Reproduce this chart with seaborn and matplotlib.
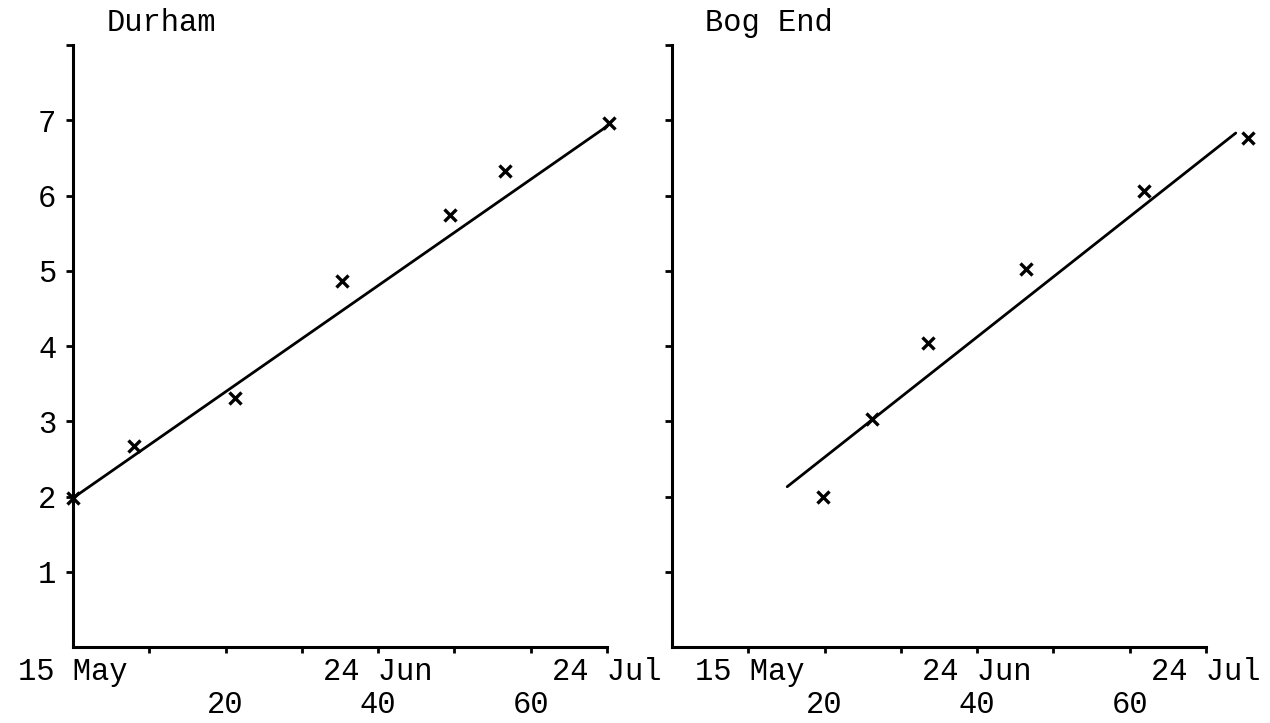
import matplotlib
matplotlib.use("Agg")
import matplotlib.pyplot as plt
from matplotlib.transforms import ScaledTranslation
import pandas as pd
import seaborn as sns

# Observations: days after 15 May and measured value, per site
durham_day = [0.0, 8.0, 21.2, 35.3, 49.4, 56.6, 70.3]
durham_val = [1.98, 2.67, 3.31, 4.86, 5.74, 6.32, 6.97]
durham_fit_day = [0.0, 70.0]
durham_fit_val = [1.98, 6.92]

bog_day = [19.8, 26.2, 33.6, 46.4, 61.9, 75.5]
bog_val = [1.99, 3.03, 4.04, 5.02, 6.06, 6.76]
bog_fit_day = [15.1, 73.9]
bog_fit_val = [2.13, 6.83]

site_names = ["Durham", "Bog End"]

# Axis ticks and labels (dates on the first row, day numbers below)
x_tick_pos = [0, 10, 20, 30, 40, 50, 60, 70]
x_tick_labels = ["15 May", "", "\n20", "", "24 Jun\n40", "", "\n60", "24 Jul"]
y_tick_pos = [1, 2, 3, 4, 5, 6, 7, 8]
y_tick_labels = ["1", "2", "3", "4", "5", "6", "7", ""]

sns.set_theme(style="ticks")
plt.rcParams["font.family"] = ["Liberation Mono", "DejaVu Sans Mono"]
plt.rcParams["font.size"] = 22

fig = plt.figure(figsize=(12.7, 7.23), dpi=100)
ax_w, ax_h = 534 / 1270, 602 / 723
bottom = 76 / 723
axes = [fig.add_axes([73 / 1270, bottom, ax_w, ax_h]),
        fig.add_axes([672 / 1270, bottom, ax_w, ax_h])]

sites = [
    (durham_day, durham_val, durham_fit_day, durham_fit_val),
    (bog_day, bog_val, bog_fit_day, bog_fit_val),
]

for i, (ax, name, (dx, dy, fx, fy)) in enumerate(zip(axes, site_names, sites)):
    pts = pd.DataFrame({"day": dx, "value": dy})
    fit = pd.DataFrame({"day": fx, "value": fy})

    sns.lineplot(data=fit, x="day", y="value", ax=ax, color="black",
                 linewidth=2.0, estimator=None, sort=False)
    sns.scatterplot(data=pts, x="day", y="value", ax=ax, marker="x",
                    color="black", s=75, linewidth=2.4)
    for art in ax.collections + ax.lines:
        art.set_clip_on(False)

    ax.set_xlim(0, 70)
    ax.set_ylim(0, 8)
    ax.set_xlabel("")
    ax.set_ylabel("")

    for side in ("top", "right"):
        ax.spines[side].set_visible(False)
    for side in ("left", "bottom"):
        ax.spines[side].set_color("black")
        ax.spines[side].set_linewidth(2.2)

    ax.set_xticks(x_tick_pos)
    ax.set_xticklabels(x_tick_labels, linespacing=1.15)
    ax.set_yticks(y_tick_pos)
    if i == 0:
        ax.set_yticklabels(y_tick_labels)
    else:
        ax.set_yticklabels([""] * len(y_tick_pos))

    ax.tick_params(axis="x", direction="out", length=4, width=2.0,
                   color="black", pad=3, labelsize=22, labelcolor="black")
    ax.tick_params(axis="y", direction="out", length=5, width=2.0,
                   color="black", pad=7, labelsize=22, labelcolor="black")
    ax.xaxis.get_major_ticks()[0].tick1line.set_visible(False)

    if i == 1:
        # keep the first date clear of the neighbouring panel's last label
        first = ax.xaxis.get_major_ticks()[0].label1
        first.set_transform(first.get_transform()
                            + ScaledTranslation(0.78, 0, fig.dpi_scale_trans))

    ax.annotate(name, xy=(0, 1), xycoords="axes fraction",
                xytext=(24, 16), textcoords="offset points",
                ha="left", va="center", fontsize=22, color="black")
    ax.grid(False)

fig.savefig("out.png", dpi=100, facecolor="white")
